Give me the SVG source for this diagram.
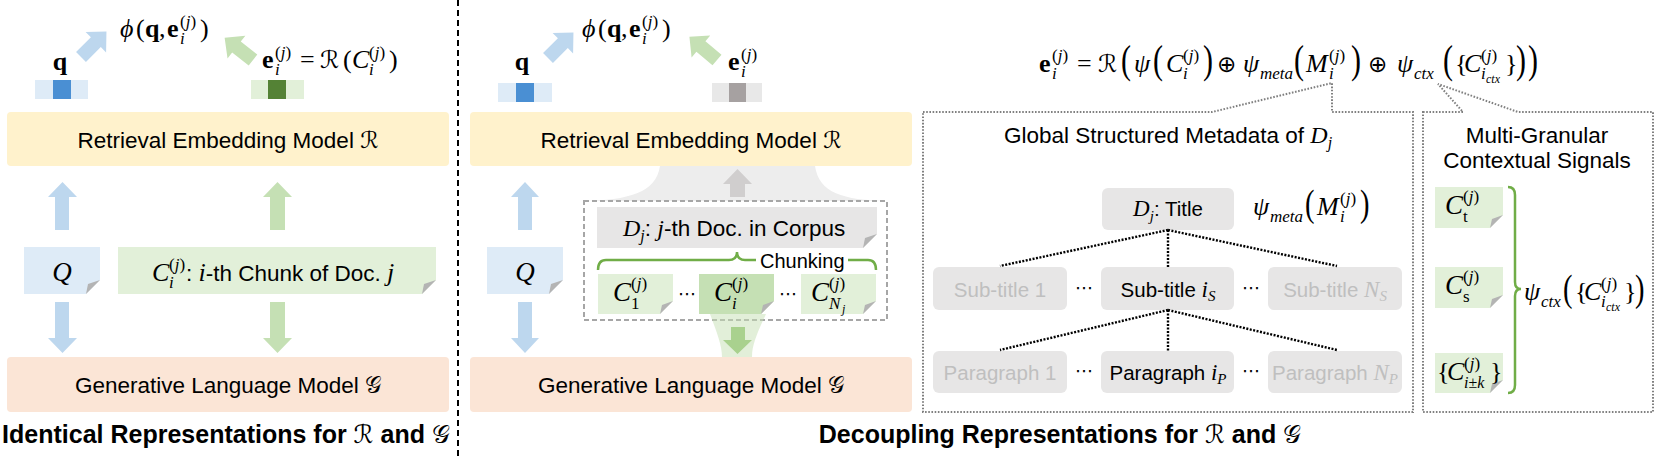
<svg xmlns="http://www.w3.org/2000/svg" width="1660" height="456" viewBox="0 0 1660 456">
<style>
.sans{font-family:"Liberation Sans",Arial,sans-serif;}
.lbl{font-family:"Liberation Sans",Arial,sans-serif;font-size:22.5px;fill:#000;}
.tn{font-family:"Liberation Sans",Arial,sans-serif;font-size:20.5px;}
.ttl{font-family:"Liberation Sans",Arial,sans-serif;font-size:25px;font-weight:bold;fill:#000;}
.mi{font-family:"Liberation Serif","DejaVu Serif",serif;font-style:italic;}
.mr{font-family:"Liberation Serif","DejaVu Serif",serif;font-style:normal;}
.mb{font-family:"Liberation Serif","DejaVu Serif",serif;font-weight:bold;}
.scr{font-family:"DejaVu Serif","DejaVu Sans","Noto Sans",serif;font-style:normal;font-weight:normal;}
.sym{font-family:"DejaVu Sans","Liberation Sans",sans-serif;}
.dim{fill:#BFBFBF;}
.yel{fill:#FFF2CC;}
.ora{fill:#FBE5D6;}
.gbox{fill:#E7E6E6;}
.fold{fill:#B4B4B4;}
.dot{fill:none;stroke:#808080;stroke-width:2;stroke-dasharray:1.6 1.6;}
.tree{fill:none;stroke:#000;stroke-width:2.4;stroke-dasharray:2 1.5;}
.brace{fill:none;stroke:#70AD47;stroke-width:2.5;}
</style>
<defs>
<path id="darr" d="M0,-7 H21 V-14.5 L36,0 L21,14.5 V7 H0 Z"/>
</defs>
<rect x="0" y="0" width="1660" height="456" fill="#fff"/>

<!-- divider -->
<line x1="458" y1="0" x2="458" y2="456" stroke="#000" stroke-width="2" stroke-dasharray="6 4"/>

<!-- ===== LEFT PANEL ===== -->
<g id="l-qvec">
<rect x="35" y="80" width="53" height="19" fill="#DEEBF7"/>
<rect x="53" y="80" width="18" height="19" fill="#4A8FD3"/>
<text x="60" y="70" class="mb" font-size="26" text-anchor="middle">q</text>
</g>
<g id="l-evec">
<rect x="251" y="80" width="53" height="19" fill="#E2F0D9"/>
<rect x="268" y="80" width="18" height="19" fill="#548235"/>
<text font-size="26"><tspan x="262" y="68" class="mb">e</tspan><tspan x="275" y="75" class="mi" font-size="17">i</tspan><tspan x="275" y="58" class="mr" font-size="17">(</tspan><tspan class="mi" font-size="17">j</tspan><tspan class="mr" font-size="17">)</tspan><tspan x="300" y="68" class="mr">=</tspan><tspan x="320" y="68" class="scr" font-size="24">ℛ</tspan><tspan x="343" y="68" class="mr">(</tspan><tspan x="352" y="68" class="mi">C</tspan><tspan x="369" y="75" class="mi" font-size="17">i</tspan><tspan x="369" y="58" class="mr" font-size="17">(</tspan><tspan class="mi" font-size="17">j</tspan><tspan class="mr" font-size="17">)</tspan><tspan x="389" y="68" class="mr">)</tspan></text>
</g>
<g id="l-sim">
<text font-size="26"><tspan x="120" y="37" class="mi">ϕ</tspan><tspan x="136" y="37" class="mr">(</tspan><tspan x="145" y="37" class="mb">q</tspan><tspan x="159" y="37" class="mr">,</tspan><tspan x="167" y="37" class="mb">e</tspan><tspan x="180" y="44" class="mi" font-size="17">i</tspan><tspan x="180" y="27" class="mr" font-size="17">(</tspan><tspan class="mi" font-size="17">j</tspan><tspan class="mr" font-size="17">)</tspan><tspan x="200" y="37" class="mr">)</tspan></text>
</g>
<g id="l-retriever">
<rect x="7" y="112" width="442" height="54" rx="4" class="yel"/>
<text x="228" y="148" class="lbl" text-anchor="middle">Retrieval Embedding Model <tspan class="scr" font-size="23">ℛ</tspan></text>
</g>
<g id="l-query">
<path d="M24,247 H100 V280 L86,294 H24 Z" fill="#DEEBF7"/>
<path d="M100,280 L86,294 L88,284 Z" class="fold"/>
<text x="62" y="281" class="mi" font-size="27" text-anchor="middle">Q</text>
</g>
<g id="l-chunk">
<path d="M118,247 H436 V280 L422,294 H118 Z" fill="#E2F0D9"/>
<path d="M436,280 L422,294 L424,284 Z" class="fold"/>
<text font-size="26"><tspan x="152" y="281" class="mi">C</tspan><tspan x="169" y="288" class="mi" font-size="17">i</tspan><tspan x="169" y="270" class="mr" font-size="17">(</tspan><tspan class="mi" font-size="17">j</tspan><tspan class="mr" font-size="17">)</tspan><tspan x="186" y="281" class="lbl">: </tspan><tspan class="mi">i</tspan><tspan class="lbl">-th Chunk of Doc. </tspan><tspan class="mi">j</tspan></text>
</g>
<g id="l-generator">
<rect x="7" y="357" width="442" height="55" rx="4" class="ora"/>
<text x="228" y="393" class="lbl" text-anchor="middle">Generative Language Model <tspan class="scr" font-size="23">𝒢</tspan></text>
</g>
<g id="l-title">
<text x="226" y="443" class="ttl" text-anchor="middle">Identical Representations for <tspan class="scr" font-weight="normal">ℛ</tspan> and <tspan class="scr" font-weight="normal">𝒢</tspan></text>
</g>

<!-- ===== RIGHT PANEL ===== -->
<g id="r-qvec">
<rect x="498" y="83" width="54" height="19" fill="#DEEBF7"/>
<rect x="516" y="83" width="18" height="19" fill="#4A8FD3"/>
<text x="522" y="70" class="mb" font-size="26" text-anchor="middle">q</text>
</g>
<g id="r-evec">
<rect x="712" y="83" width="50" height="19" fill="#E8E8E8"/>
<rect x="729" y="83" width="17" height="19" fill="#A6A1A1"/>
<text font-size="26"><tspan x="728" y="70" class="mb">e</tspan><tspan x="741" y="77" class="mi" font-size="17">i</tspan><tspan x="741" y="60" class="mr" font-size="17">(</tspan><tspan class="mi" font-size="17">j</tspan><tspan class="mr" font-size="17">)</tspan></text>
</g>
<g id="r-sim">
<text font-size="26"><tspan x="582" y="37" class="mi">ϕ</tspan><tspan x="598" y="37" class="mr">(</tspan><tspan x="607" y="37" class="mb">q</tspan><tspan x="621" y="37" class="mr">,</tspan><tspan x="629" y="37" class="mb">e</tspan><tspan x="642" y="44" class="mi" font-size="17">i</tspan><tspan x="642" y="27" class="mr" font-size="17">(</tspan><tspan class="mi" font-size="17">j</tspan><tspan class="mr" font-size="17">)</tspan><tspan x="662" y="37" class="mr">)</tspan></text>
</g>
<g id="r-funnel">
<path d="M660,166 C656,193 628,200 584,201 L887,201 C843,200 819,193 815,166 Z" fill="#EDEDED"/>
</g>
<g id="r-retriever">
<rect x="470" y="112" width="442" height="54" rx="4" class="yel"/>
<text x="691" y="148" class="lbl" text-anchor="middle">Retrieval Embedding Model <tspan class="scr" font-size="23">ℛ</tspan></text>
</g>
<g id="r-query">
<path d="M487,247 H563 V280 L549,294 H487 Z" fill="#DEEBF7"/>
<path d="M563,280 L549,294 L551,284 Z" class="fold"/>
<text x="525" y="281" class="mi" font-size="27" text-anchor="middle">Q</text>
</g>
<g id="r-corpus">
<rect x="584" y="201" width="303" height="119" fill="none" stroke="#A6A6A6" stroke-width="2" stroke-dasharray="5 3"/>
</g>
<g id="r-doc">
<path d="M597,207 H877 V234 L863,248 H597 Z" class="gbox"/>
<path d="M877,234 L863,248 L865,238 Z" class="fold"/>
<text font-size="24"><tspan x="623" y="236" class="mi">D</tspan><tspan class="mi" font-size="16" dy="5">j</tspan><tspan class="lbl" dy="-5">: </tspan><tspan class="mi">j</tspan><tspan class="lbl">-th Doc. in Corpus</tspan></text>
</g>
<g id="r-chunking">
<text x="760" y="268" class="sans" font-size="20">Chunking</text>
</g>
<g id="r-c1">
<path d="M598,274 H673 V301 L660,314 H598 Z" fill="#E2F0D9"/>
<path d="M673,301 L660,314 L662,305 Z" class="fold"/>
<text font-size="27"><tspan x="613" y="301" class="mi">C</tspan><tspan x="631" y="309" class="mr" font-size="17">1</tspan><tspan x="631" y="289" class="mr" font-size="17">(</tspan><tspan class="mi" font-size="17">j</tspan><tspan class="mr" font-size="17">)</tspan></text>
</g>
<text x="687" y="300" class="sym" font-size="18" text-anchor="middle">⋯</text>
<g id="r-ci">
<path d="M699,274 H774 V301 L761,314 H699 Z" fill="#C5E0B4"/>
<path d="M774,301 L761,314 L763,305 Z" class="fold"/>
<text font-size="27"><tspan x="714" y="301" class="mi">C</tspan><tspan x="732" y="309" class="mi" font-size="17">i</tspan><tspan x="732" y="289" class="mr" font-size="17">(</tspan><tspan class="mi" font-size="17">j</tspan><tspan class="mr" font-size="17">)</tspan></text>
</g>
<text x="788" y="300" class="sym" font-size="18" text-anchor="middle">⋯</text>
<g id="r-cn">
<path d="M801,274 H876 V301 L863,314 H801 Z" fill="#E2F0D9"/>
<path d="M876,301 L863,314 L865,305 Z" class="fold"/>
<text font-size="27"><tspan x="811" y="301" class="mi">C</tspan><tspan x="829" y="309" class="mi" font-size="17">N</tspan><tspan x="842" y="313" class="mi" font-size="12">j</tspan><tspan x="829" y="289" class="mr" font-size="17">(</tspan><tspan class="mi" font-size="17">j</tspan><tspan class="mr" font-size="17">)</tspan></text>
</g>
<g id="r-gfunnel">
<path d="M710,314 C717,333 722,345 722,357 L752,357 C752,345 757,333 766,314 Z" fill="#C5E0B4" fill-opacity="0.5"/>
</g>
<g id="r-generator">
<rect x="470" y="357" width="442" height="55" rx="4" class="ora"/>
<text x="691" y="393" class="lbl" text-anchor="middle">Generative Language Model <tspan class="scr" font-size="23">𝒢</tspan></text>
</g>
<g id="r-title">
<text x="1060" y="443" class="ttl" text-anchor="middle">Decoupling Representations for <tspan class="scr" font-weight="normal">ℛ</tspan> and <tspan class="scr" font-weight="normal">𝒢</tspan></text>
</g>

<!-- top formula -->
<g id="formula">
<text font-size="26">
<tspan x="1039" y="72" class="mb">e</tspan><tspan x="1052" y="79" class="mi" font-size="17">i</tspan><tspan x="1052" y="61" class="mr" font-size="17">(</tspan><tspan class="mi" font-size="17">j</tspan><tspan class="mr" font-size="17">)</tspan>
<tspan x="1077" y="72" class="mr">=</tspan><tspan x="1098" y="72" class="scr" font-size="24">ℛ</tspan>
<tspan x="1134" y="72" class="mi">ψ</tspan>
<tspan x="1166" y="72" class="mi">C</tspan><tspan x="1183" y="79" class="mi" font-size="17">i</tspan><tspan x="1183" y="61" class="mr" font-size="17">(</tspan><tspan class="mi" font-size="17">j</tspan><tspan class="mr" font-size="17">)</tspan>
<tspan x="1217" y="72" class="sym" font-size="23">⊕</tspan>
<tspan x="1243" y="72" class="mi">ψ</tspan><tspan x="1260" y="79" class="mi" font-size="17">meta</tspan>
<tspan x="1306" y="72" class="mi">M</tspan><tspan x="1329" y="79" class="mi" font-size="17">i</tspan><tspan x="1329" y="61" class="mr" font-size="17">(</tspan><tspan class="mi" font-size="17">j</tspan><tspan class="mr" font-size="17">)</tspan>
<tspan x="1368" y="72" class="sym" font-size="23">⊕</tspan>
<tspan x="1397" y="72" class="mi">ψ</tspan><tspan x="1414" y="79" class="mi" font-size="17">ctx</tspan>
<tspan x="1455" y="72" class="mr">{</tspan><tspan x="1464" y="72" class="mi">C</tspan><tspan x="1481" y="79" class="mi" font-size="17">i</tspan><tspan x="1486" y="83" class="mi" font-size="12">ctx</tspan><tspan x="1481" y="61" class="mr" font-size="17">(</tspan><tspan class="mi" font-size="17">j</tspan><tspan class="mr" font-size="17">)</tspan><tspan x="1505" y="72" class="mr">}</tspan>
</text>
<text class="mr" font-size="40" transform="translate(1121,73) scale(0.75,1)">(</text>
<text class="mr" font-size="40" transform="translate(1153,73) scale(0.75,1)">(</text>
<text class="mr" font-size="40" transform="translate(1203,73) scale(0.75,1)">)</text>
<text class="mr" font-size="40" transform="translate(1294,73) scale(0.75,1)">(</text>
<text class="mr" font-size="40" transform="translate(1351,73) scale(0.75,1)">)</text>
<text class="mr" font-size="40" transform="translate(1443,73) scale(0.75,1)">(</text>
<text class="mr" font-size="40" transform="translate(1516,73) scale(0.75,1)">)</text>
<text class="mr" font-size="40" transform="translate(1528,73) scale(0.75,1)">)</text>
</g>

<!-- Global structured metadata panel -->
<g id="meta-panel">
<path d="M923,112 H1212 L1332,83 V112 H1413 V412 H923 Z" class="dot"/>
<text x="1168" y="143" class="lbl" text-anchor="middle">Global Structured Metadata of <tspan class="mi" font-size="24">D</tspan><tspan class="mi" font-size="16" dy="5">j</tspan></text>
</g>
<g id="t-title">
<rect x="1102" y="188" width="132" height="42" rx="6" class="gbox"/>
<text x="1168" y="216" class="tn" text-anchor="middle"><tspan class="mi" font-size="23">D</tspan><tspan class="mi" font-size="15" dy="5">j</tspan><tspan dy="-5">: Title</tspan></text>
</g>
<g id="t-psimeta">
<text font-size="26"><tspan x="1253" y="215" class="mi">ψ</tspan><tspan x="1270" y="222" class="mi" font-size="17">meta</tspan><tspan x="1317" y="215" class="mi">M</tspan><tspan x="1340" y="222" class="mi" font-size="17">i</tspan><tspan x="1340" y="204" class="mr" font-size="17">(</tspan><tspan class="mi" font-size="17">j</tspan><tspan class="mr" font-size="17">)</tspan></text>
<text class="mr" font-size="38" transform="translate(1305,216) scale(0.75,1)">(</text>
<text class="mr" font-size="38" transform="translate(1360,216) scale(0.75,1)">)</text>
</g>
<g id="t-sub1">
<rect x="933" y="267" width="134" height="43" rx="6" class="gbox"/>
<text x="1000" y="297" class="tn dim" text-anchor="middle">Sub-title 1</text>
</g>
<text x="1084" y="294" class="sym" font-size="18" text-anchor="middle">⋯</text>
<g id="t-subi">
<rect x="1101" y="267" width="133" height="43" rx="6" class="gbox"/>
<text x="1168" y="297" class="tn" text-anchor="middle">Sub-title <tspan class="mi" font-size="23">i</tspan><tspan class="mi" font-size="15" dy="4">S</tspan></text>
</g>
<text x="1251" y="294" class="sym" font-size="18" text-anchor="middle">⋯</text>
<g id="t-subn">
<rect x="1268" y="267" width="134" height="43" rx="6" class="gbox"/>
<text x="1335" y="297" class="tn dim" text-anchor="middle">Sub-title <tspan class="mi" font-size="23">N</tspan><tspan class="mi" font-size="15" dy="4">S</tspan></text>
</g>
<g id="t-par1">
<rect x="933" y="351" width="134" height="42" rx="6" class="gbox"/>
<text x="1000" y="380" class="tn dim" text-anchor="middle">Paragraph 1</text>
</g>
<text x="1084" y="377" class="sym" font-size="18" text-anchor="middle">⋯</text>
<g id="t-pari">
<rect x="1101" y="351" width="133" height="42" rx="6" class="gbox"/>
<text x="1168" y="380" class="tn" text-anchor="middle">Paragraph <tspan class="mi" font-size="23">i</tspan><tspan class="mi" font-size="15" dy="4">P</tspan></text>
</g>
<text x="1251" y="377" class="sym" font-size="18" text-anchor="middle">⋯</text>
<g id="t-parn">
<rect x="1268" y="351" width="134" height="42" rx="6" class="gbox"/>
<text x="1335" y="380" class="tn dim" text-anchor="middle">Paragraph <tspan class="mi" font-size="23">N</tspan><tspan class="mi" font-size="15" dy="4">P</tspan></text>
</g>

<!-- Multi-granular panel -->
<g id="ctx-panel">
<path d="M1423,112 H1463 L1438,84 L1518,112 H1653 V412 H1423 Z" class="dot"/>
<text x="1537" y="143" class="lbl" text-anchor="middle">Multi-Granular</text>
<text x="1537" y="168" class="lbl" text-anchor="middle">Contextual Signals</text>
</g>
<g id="c-t">
<path d="M1435,187 H1503 V215 L1490,228 H1435 Z" fill="#E2F0D9"/>
<path d="M1503,215 L1490,228 L1492,219 Z" class="fold"/>
<text font-size="27"><tspan x="1445" y="214" class="mi">C</tspan><tspan x="1463" y="222" class="mr" font-size="17">t</tspan><tspan x="1463" y="202" class="mr" font-size="17">(</tspan><tspan class="mi" font-size="17">j</tspan><tspan class="mr" font-size="17">)</tspan></text>
</g>
<g id="c-s">
<path d="M1435,267 H1503 V295 L1490,308 H1435 Z" fill="#E2F0D9"/>
<path d="M1503,295 L1490,308 L1492,299 Z" class="fold"/>
<text font-size="27"><tspan x="1445" y="294" class="mi">C</tspan><tspan x="1463" y="302" class="mr" font-size="17">s</tspan><tspan x="1463" y="282" class="mr" font-size="17">(</tspan><tspan class="mi" font-size="17">j</tspan><tspan class="mr" font-size="17">)</tspan></text>
</g>
<g id="c-k">
<path d="M1435,353 H1503 V380 L1490,393 H1435 Z" fill="#E2F0D9"/>
<path d="M1503,380 L1490,393 L1492,384 Z" class="fold"/>
<text font-size="26"><tspan x="1437" y="380" class="mr">{</tspan><tspan x="1447" y="380" class="mi">C</tspan><tspan x="1464" y="388" class="mi" font-size="16">i</tspan><tspan class="mr" font-size="16">±</tspan><tspan class="mi" font-size="16">k</tspan><tspan x="1464" y="369" class="mr" font-size="17">(</tspan><tspan class="mi" font-size="17">j</tspan><tspan class="mr" font-size="17">)</tspan><tspan x="1490" y="380" class="mr">}</tspan></text>
</g>
<g id="c-psictx">
<text font-size="26"><tspan x="1524" y="300" class="mi">ψ</tspan><tspan x="1541" y="307" class="mi" font-size="17">ctx</tspan><tspan x="1575" y="300" class="mr">{</tspan><tspan x="1584" y="300" class="mi">C</tspan><tspan x="1601" y="307" class="mi" font-size="17">i</tspan><tspan x="1606" y="311" class="mi" font-size="12">ctx</tspan><tspan x="1601" y="289" class="mr" font-size="17">(</tspan><tspan class="mi" font-size="17">j</tspan><tspan class="mr" font-size="17">)</tspan><tspan x="1624" y="300" class="mr">}</tspan></text>
<text class="mr" font-size="38" transform="translate(1563,301) scale(0.75,1)">(</text>
<text class="mr" font-size="38" transform="translate(1635,301) scale(0.75,1)">)</text>
</g>

<!-- ===== CONNECTORS ===== -->
<g id="connectors">
<!-- left panel -->
<use href="#darr" fill="#BDD7EE" transform="translate(81,57) rotate(-45)"/>
<use href="#darr" fill="#C5E0B4" transform="translate(253,60) rotate(-142)"/>
<path d="M55,230 V197 H48 L62.5,182 L77,197 H69 V230 Z" fill="#BDD7EE"/>
<path d="M270,230 V197 H263 L277.5,182 L292,197 H285 V230 Z" fill="#C5E0B4"/>
<path d="M55,302 V338 H48 L62.5,353 L77,338 H69 V302 Z" fill="#BDD7EE"/>
<path d="M270,302 V338 H263 L277.5,353 L292,338 H285 V302 Z" fill="#C5E0B4"/>
<!-- right panel -->
<use href="#darr" fill="#BDD7EE" transform="translate(548,58) rotate(-45)"/>
<use href="#darr" fill="#C5E0B4" transform="translate(717,60) rotate(-140)"/>
<path d="M518,230 V197 H511 L525,182 L539,197 H532 V230 Z" fill="#BDD7EE"/>
<path d="M518,302 V338 H511 L525,353 L539,338 H532 V302 Z" fill="#BDD7EE"/>
<path d="M730,197 V184 H723 L737.5,169 L752,184 H745 V197 Z" fill="#D0CECE"/>
<path d="M731,327 V340 H723 L737.5,354 L752,340 H745 V327 Z" fill="#A9D18E"/>
<path d="M598,270 Q598,260 606,260 H729 Q737,260 737,252 Q737,260 745,260 H756" class="brace"/>
<path d="M848,260 H868 Q876,260 876,270" class="brace"/>
<!-- tree -->
<path d="M1168,230 L1000,266 M1168,230 V267 M1168,230 L1337,266" class="tree"/>
<path d="M1168,310 L1000,350 M1168,310 V351 M1168,310 L1337,350" class="tree"/>
<!-- context brace -->
<path d="M1508,187 Q1515,187 1515,195 V282 Q1515,289 1521,289 Q1515,289 1515,296 V385 Q1515,393 1508,393" class="brace"/>
</g>
</svg>
